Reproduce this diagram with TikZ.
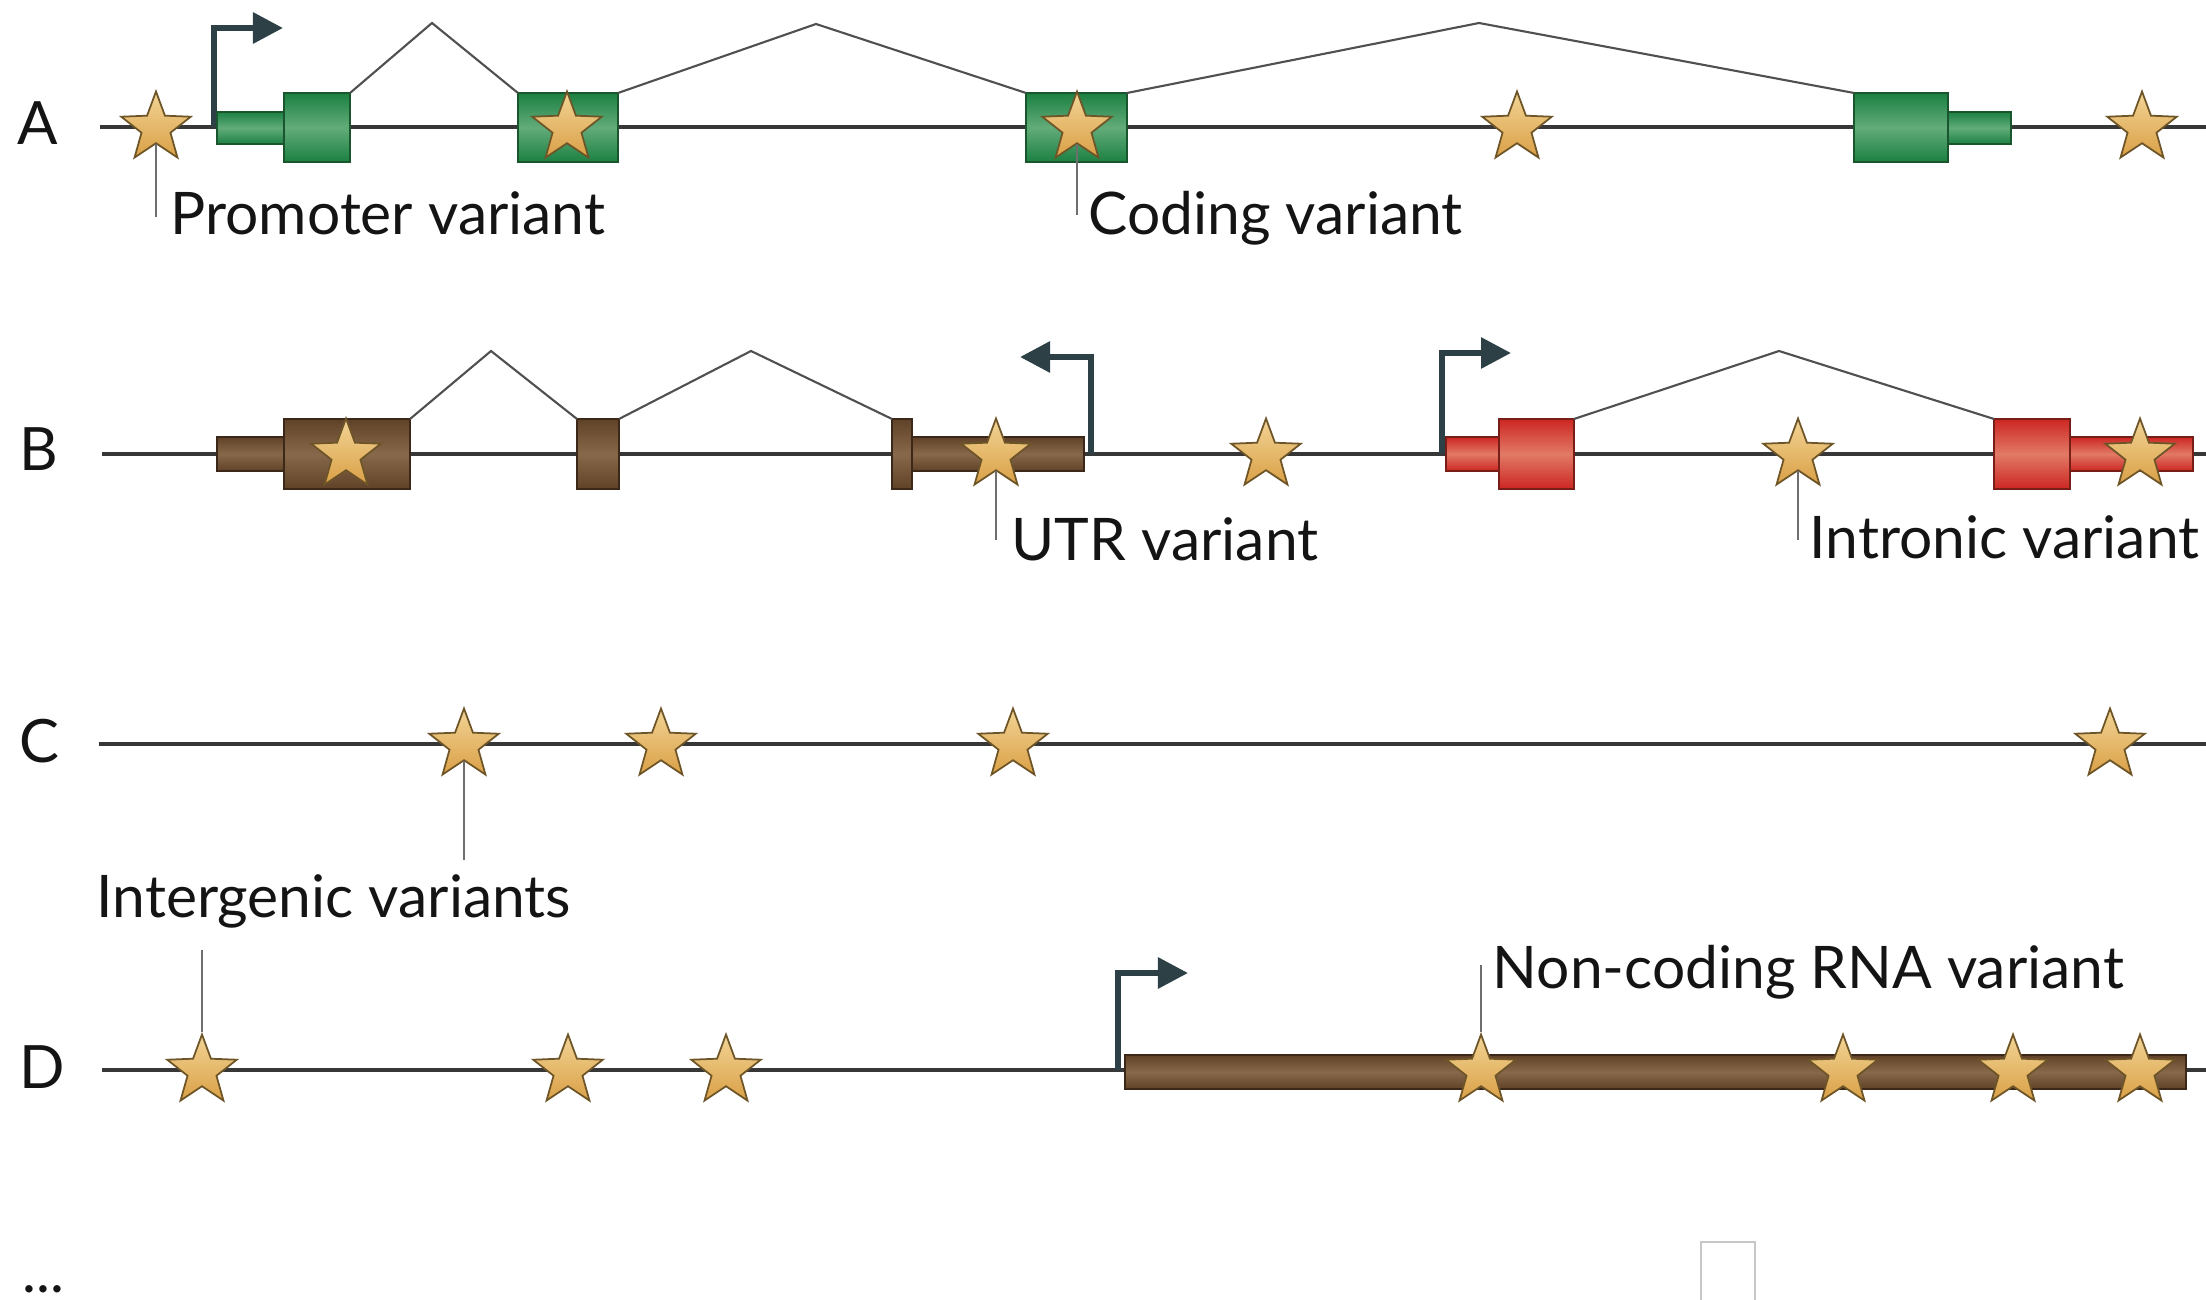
\documentclass[tikz,border=0pt]{standalone}
\usepackage{fontspec}
\setmainfont{Lato}
\usetikzlibrary{shapes.geometric,arrows.meta}
\definecolor{gdark}{RGB}{28,128,66}
\definecolor{glight}{RGB}{98,172,122}
\definecolor{gedge}{RGB}{25,85,45}
\definecolor{bdark}{RGB}{96,66,40}
\definecolor{blight}{RGB}{135,104,74}
\definecolor{bedge}{RGB}{60,40,25}
\definecolor{rdark}{RGB}{204,38,34}
\definecolor{rlight}{RGB}{226,122,102}
\definecolor{redge}{RGB}{120,30,25}
\definecolor{starhi}{RGB}{242,212,150}
\definecolor{starlo}{RGB}{218,160,70}
\definecolor{staredge}{RGB}{110,85,40}
\definecolor{arrowc}{RGB}{45,64,70}
\definecolor{dnaline}{RGB}{55,55,55}
\definecolor{hatc}{RGB}{80,80,80}
\definecolor{leadc}{RGB}{110,110,110}
\tikzset{
  dna/.style={draw=dnaline, line width=1.4pt},
  hat/.style={draw=hatc, line width=0.6pt},
  leader/.style={draw=leadc, line width=0.45pt},
  tss/.style={draw=arrowc, line width=1.7pt, -{Triangle[length=0.3cm,width=0.3cm]}},
  box/.style={rectangle, inner sep=0pt, outer sep=0pt, line width=0.5pt},
  gexon/.style={box, draw=gedge, top color=gdark, bottom color=gdark, middle color=glight},
  bexon/.style={box, draw=bedge, top color=bdark, bottom color=bdark, middle color=blight},
  rexon/.style={box, draw=redge, top color=rdark, bottom color=rdark, middle color=rlight},
  snp/.style={star, star points=5, star point ratio=2.4, minimum size=0.73cm, inner sep=0pt, draw=staredge, line width=0.5pt, top color=starhi, bottom color=starlo},
  ann/.style={font=\fontsize{16.7}{19}\selectfont, inner sep=0pt, anchor=base west, text=black!92},
  rowlab/.style={font=\fontsize{17}{19}\selectfont, inner sep=0pt, anchor=base, text=black!92},
}
\begin{document}
\begin{tikzpicture}[x=0.01cm,y=-0.01cm]
\useasboundingbox (0,0) rectangle (2206,1300);

% ---------------- Row A ----------------
\node[rowlab] (labA) at (38,145) {A};
\coordinate (lA) at (100,127); \coordinate (rA) at (2206,127);
\draw[dna] (lA) -- (rA);
\coordinate (tA0) at (214,127); \coordinate (tA1) at (283,28);
\draw[tss] (tA0) |- (tA1);
\node[gexon, minimum width=0.67cm, minimum height=0.32cm] (uA1) at (250.5,128) {};
\node[gexon, minimum width=0.66cm, minimum height=0.69cm] (eA1) at (317,127.5) {};
\node[gexon, minimum width=1.00cm, minimum height=0.69cm] (eA2) at (568,127.5) {};
\node[gexon, minimum width=1.01cm, minimum height=0.69cm] (eA3) at (1076.5,127.5) {};
\node[gexon, minimum width=0.63cm, minimum height=0.32cm] (uA2) at (1979.5,128) {};
\node[gexon, minimum width=0.94cm, minimum height=0.69cm] (eA4) at (1901,127.5) {};
\coordinate (pA1) at (432,23); \coordinate (pA2) at (816,24); \coordinate (pA3) at (1479,23);
\draw[hat] (eA1.north east) -- (pA1) -- (eA2.north west);
\draw[hat] (eA2.north east) -- (pA2) -- (eA3.north west);
\draw[hat] (eA3.north east) -- (pA3) -- (eA4.north west);
\node[snp] (sA1) at (156,128) {};
\node[snp] (sA2) at (567,128) {};
\node[snp] (sA3) at (1077,128) {};
\node[snp] (sA4) at (1517,128) {};
\node[snp] (sA5) at (2142,128) {};
\coordinate (kA1) at (156,217); \coordinate (kA3) at (1077,215);
\draw[leader] (sA1.inner point 3) -- (kA1);
\draw[leader] (sA3.inner point 3) -- (kA3);
\node[ann] (tPro) at (170,235) {Promoter variant};
\node[ann] (tCod) at (1088,235) {Coding variant};

% ---------------- Row B ----------------
\node[rowlab] (labB) at (39,470) {B};
\coordinate (lB) at (102,454); \coordinate (rB) at (2206,454);
\draw[dna] (lB) -- (rB);
\coordinate (tB0) at (1091,454); \coordinate (tB1) at (1020,357);
\draw[tss] (tB0) |- (tB1);
\coordinate (tB2) at (1442,454); \coordinate (tB3) at (1511,353);
\draw[tss] (tB2) |- (tB3);
\node[bexon, minimum width=0.67cm, minimum height=0.34cm] (uB1) at (250.5,454) {};
\node[bexon, minimum width=1.26cm, minimum height=0.70cm] (eB1) at (347,454) {};
\node[bexon, minimum width=0.42cm, minimum height=0.70cm] (eB2) at (598,454) {};
\node[bexon, minimum width=1.72cm, minimum height=0.34cm] (uB2) at (998,454) {};
\node[bexon, minimum width=0.20cm, minimum height=0.70cm] (eB3) at (902,454) {};
\node[rexon, minimum width=0.53cm, minimum height=0.34cm] (uB3) at (1472.5,454) {};
\node[rexon, minimum width=0.75cm, minimum height=0.70cm] (eB4) at (1536.5,454) {};
\node[rexon, minimum width=1.23cm, minimum height=0.34cm] (uB4) at (2131.5,454) {};
\node[rexon, minimum width=0.76cm, minimum height=0.70cm] (eB5) at (2032,454) {};
\coordinate (pB1) at (491,351); \coordinate (pB2) at (751,351); \coordinate (pB3) at (1779,351);
\draw[hat] (eB1.north east) -- (pB1) -- (eB2.north west);
\draw[hat] (eB2.north east) -- (pB2) -- (eB3.north west);
\draw[hat] (eB4.north east) -- (pB3) -- (eB5.north west);
\node[snp] (sB1) at (346,455) {};
\node[snp] (sB2) at (996,455) {};
\node[snp] (sB3) at (1266,455) {};
\node[snp] (sB4) at (1798,455) {};
\node[snp] (sB5) at (2140,455) {};
\coordinate (kB2) at (996,540); \coordinate (kB4) at (1798,540);
\draw[leader] (sB2.inner point 3) -- (kB2);
\draw[leader] (sB4.inner point 3) -- (kB4);
\node[ann] (tUTR) at (1011,560) {UTR variant};
\node[ann] (tInt) at (1809,558) {Intronic variant};

% ---------------- Row C ----------------
\node[rowlab] (labC) at (39,762) {C};
\coordinate (lC) at (99,744); \coordinate (rC) at (2206,744);
\draw[dna] (lC) -- (rC);
\node[snp] (sC1) at (464,745) {};
\node[snp] (sC2) at (661,745) {};
\node[snp] (sC3) at (1013,745) {};
\node[snp] (sC4) at (2110,745) {};
\coordinate (kC1) at (464,860);
\draw[leader] (sC1.inner point 3) -- (kC1);
\node[ann] (tIg) at (96,917) {Intergenic variants};

% ---------------- Row D ----------------
\node[rowlab] (labD) at (42,1088) {D};
\coordinate (lD) at (102,1070); \coordinate (rD) at (2206,1070);
\draw[dna] (lD) -- (rD);
\coordinate (tD0) at (1118,1070); \coordinate (tD1) at (1188,973);
\draw[tss] (tD0) |- (tD1);
\node[bexon, minimum width=10.61cm, minimum height=0.34cm] (nD) at (1655.5,1072) {};
\node[snp] (sD1) at (202,1071) {};
\node[snp] (sD2) at (568,1071) {};
\node[snp] (sD3) at (726,1071) {};
\node[snp] (sD4) at (1481,1071) {};
\node[snp] (sD5) at (1843,1071) {};
\node[snp] (sD6) at (2013,1071) {};
\node[snp] (sD7) at (2140,1071) {};
\coordinate (kD1) at (202,950); \coordinate (kD4) at (1481,965);
\draw[leader] (sD1.outer point 1) -- (kD1);
\draw[leader] (sD4.outer point 1) -- (kD4);
\node[ann] (tNc) at (1492,988) {Non-coding RNA variant};

% ---------------- bottom ----------------
\node[ann] (dots) at (22,1292) {...};
\draw[draw=black!22, line width=0.5pt, fill=white] (1701,1300) -- (1701,1242) -- (1755,1242) -- (1755,1300);
\end{tikzpicture}
\end{document}
